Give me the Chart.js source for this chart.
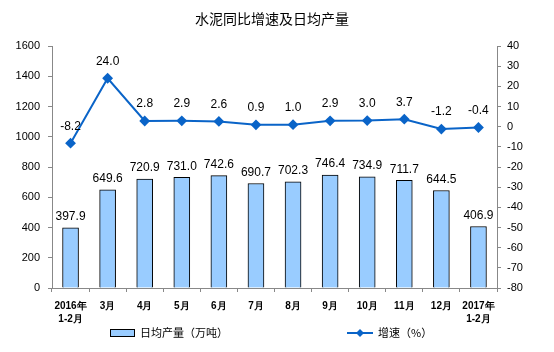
<!DOCTYPE html>
<html>
<head>
<meta charset="utf-8">
<script src="https://cdn.jsdelivr.net/npm/chart.js@4"></script>
<style>
  html, body { margin: 0; padding: 0; background: #fff; }
  #wrap { width: 554px; height: 352px; }
</style>
</head>
<body>
<div id="wrap"><canvas id="cementChart" width="554" height="352"></canvas></div>
<script>
// ==================== DATA ====================
const months = [['2016年', '1-2月'], '3月', '4月', '5月', '6月', '7月', '8月', '9月', '10月', '11月', '12月', ['2017年', '1-2月']];
const dailyOutput = [397.9, 649.6, 720.9, 731.0, 742.6, 690.7, 702.3, 746.4, 734.9, 711.7, 644.5, 406.9];
const growthRate = [-8.2, 24.0, 2.8, 2.9, 2.6, 0.9, 1.0, 2.9, 3.0, 3.7, -1.2, -0.4];

const barColor = '#99ccff';
const lineColor = '#0a64c8';
const font = '"Liberation Sans", Arial, sans-serif';

// ==================== PLUGINS ====================
const valueLabels = {
  id: 'valueLabels',
  afterDatasetsDraw(chart) {
    const ctx = chart.ctx;
    ctx.save();
    ctx.font = '12px ' + font;
    ctx.fillStyle = '#000';
    ctx.textAlign = 'center';
    ctx.textBaseline = 'bottom';
    chart.getDatasetMeta(0).data.forEach((bar, i) => {
      ctx.fillText(dailyOutput[i].toFixed(1), bar.x, bar.y - 5);
    });
    chart.getDatasetMeta(1).data.forEach((pt, i) => {
      ctx.fillText(growthRate[i].toFixed(1), pt.x, pt.y - 11);
    });
    ctx.restore();
  }
};

const titleAndLegend = {
  id: 'titleAndLegend',
  afterDraw(chart) {
    const ctx = chart.ctx;
    ctx.save();
    ctx.fillStyle = '#000';
    ctx.textAlign = 'center';
    ctx.textBaseline = 'middle';
    ctx.font = '14px "Noto Sans CJK SC", sans-serif';
    ctx.fillText('水泥同比增速及日均产量', 272, 19);

    // bar legend
    ctx.fillStyle = barColor;
    ctx.strokeStyle = '#000';
    ctx.lineWidth = 1;
    ctx.fillRect(110.5, 329.5, 24, 7);
    ctx.strokeRect(110.5, 329.5, 24, 7);
    ctx.fillStyle = '#000';
    ctx.textAlign = 'left';
    ctx.font = '11px "Noto Sans CJK SC", sans-serif';
    ctx.fillText('日均产量（万吨）', 140, 333);

    // line legend
    ctx.strokeStyle = lineColor;
    ctx.lineWidth = 2;
    ctx.beginPath();
    ctx.moveTo(347, 333);
    ctx.lineTo(373, 333);
    ctx.stroke();
    ctx.fillStyle = lineColor;
    ctx.beginPath();
    ctx.moveTo(360, 329); ctx.lineTo(364, 333); ctx.lineTo(360, 337); ctx.lineTo(356, 333);
    ctx.closePath();
    ctx.fill();
    ctx.fillStyle = '#000';
    ctx.fillText('增速（%）', 378, 333);
    ctx.restore();
  }
};

// ==================== CHART ====================
new Chart(document.getElementById('cementChart'), {
  data: {
    labels: months,
    datasets: [
      {
        type: 'bar',
        label: '日均产量（万吨）',
        data: dailyOutput,
        backgroundColor: barColor,
        borderColor: '#000',
        borderWidth: 1,
        barThickness: 16,
        yAxisID: 'y',
        order: 2
      },
      {
        type: 'line',
        label: '增速（%）',
        data: growthRate,
        borderColor: lineColor,
        backgroundColor: lineColor,
        borderWidth: 2,
        pointStyle: 'rectRot',
        pointRadius: 4,
        tension: 0,
        yAxisID: 'y1',
        order: 1
      }
    ]
  },
  options: {
    responsive: false,
    animation: false,
    layout: { padding: { top: 46, left: 0, right: 0, bottom: 0 } },
    plugins: {
      legend: { display: false },
      tooltip: { enabled: false },
      title: { display: false }
    },
    scales: {
      x: {
        offset: true,
        grid: { offset: true, drawOnChartArea: false, drawTicks: true, tickLength: 4, color: '#888' },
        border: { color: '#888' },
        ticks: { color: '#000', font: { family: font, size: 10, weight: 'bold', lineHeight: 1.3 }, maxRotation: 0, autoSkip: false, padding: 8 },
        afterFit(scale) { scale.height = 64; }
      },
      y: {
        position: 'left',
        min: 0,
        max: 1600,
        ticks: { stepSize: 200, color: '#000', font: { family: font, size: 11 }, padding: 8, callback: v => String(v) },
        grid: { drawOnChartArea: false, drawTicks: true, tickLength: 4, color: '#888' },
        border: { color: '#888' },
        afterFit(scale) { scale.width = 52; }
      },
      y1: {
        position: 'right',
        min: -80,
        max: 40,
        ticks: { stepSize: 10, color: '#000', font: { family: font, size: 11 }, padding: 6, callback: v => String(v) },
        grid: { drawOnChartArea: false, drawTicks: true, tickLength: 4, color: '#888' },
        border: { color: '#888' },
        afterFit(scale) { scale.width = 57; }
      }
    }
  },
  plugins: [valueLabels, titleAndLegend]
});
</script>
</body>
</html>
